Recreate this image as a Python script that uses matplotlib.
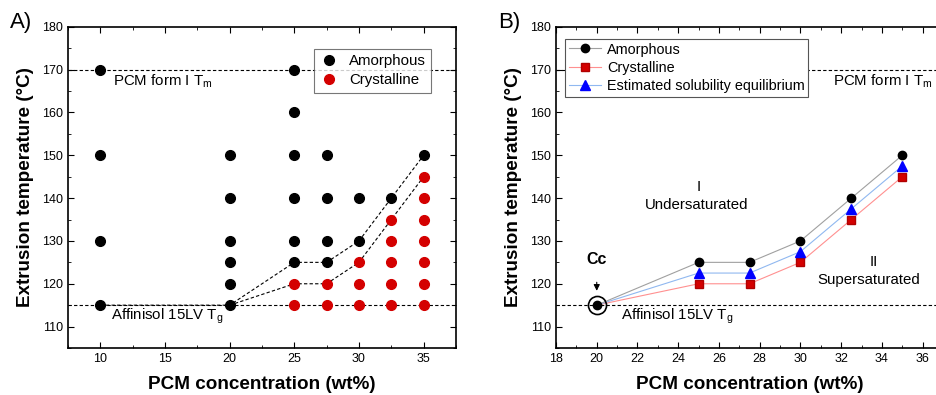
import matplotlib
matplotlib.use("Agg")
import matplotlib.pyplot as plt
from matplotlib.ticker import MultipleLocator

plt.rcParams['font.family'] = ['Liberation Sans', 'DejaVu Sans']
plt.rcParams['mathtext.fontset'] = 'custom'
plt.rcParams['mathtext.rm'] = 'Liberation Sans'
plt.rcParams['mathtext.it'] = 'Liberation Sans'

# panel A: screening points
amor_x = [10, 10, 10, 10,
          20, 20, 20, 20, 20, 20,
          25, 25, 25, 25, 25, 25,
          27.5, 27.5, 27.5, 27.5,
          30, 30, 32.5, 35]
amor_t = [170, 150, 130, 115,
          150, 140, 130, 125, 120, 115,
          170, 160, 150, 140, 130, 125,
          150, 140, 130, 125,
          140, 130, 140, 150]
cryst_x = [25, 25, 27.5, 27.5, 30, 30, 30,
           32.5, 32.5, 32.5, 32.5, 32.5,
           35, 35, 35, 35, 35, 35, 35]
cryst_t = [120, 115, 120, 115, 125, 120, 115,
           135, 130, 125, 120, 115,
           145, 140, 135, 130, 125, 120, 115]

# boundaries (dashed)
upper_x = [10, 20, 25, 27.5, 30, 32.5, 35]
upper_t = [115, 115, 125, 125, 130, 140, 150]
lower_x = [20, 25, 27.5, 30, 32.5, 35]
lower_t = [115, 120, 120, 125, 135, 145]

# panel B: phase diagram
conc = [20, 25, 27.5, 30, 32.5, 35]
t_amor = [115, 125, 125, 130, 140, 150]
t_cryst = [115, 120, 120, 125, 135, 145]
t_equil = [115, 122.5, 122.5, 127.5, 137.5, 147.5]

tm_pcm = 170
tg_polymer = 115

fig = plt.figure(figsize=(9.37, 3.95), dpi=100)
axA = fig.add_axes([0.0726, 0.119, 0.414, 0.813])
axB = fig.add_axes([0.5934, 0.119, 0.413, 0.813])

def style_axis(ax):
    ax.tick_params(which='both', direction='in', top=True, right=True, labelsize=9)
    ax.tick_params(which='major', length=4)
    ax.tick_params(which='minor', length=2.5)
    ax.set_ylim(105, 180)
    ax.yaxis.set_major_locator(MultipleLocator(10))
    ax.yaxis.set_minor_locator(MultipleLocator(5))
    ax.set_xlabel('PCM concentration (wt%)', fontsize=13.6, fontweight='bold', labelpad=8)
    ax.set_ylabel('Extrusion temperature (\u00b0C)', fontsize=13.6, fontweight='bold', labelpad=6)
    for s in ax.spines.values():
        s.set_linewidth(1.2)

# ---- A ----
axA.axhline(tm_pcm, color='black', ls='--', lw=0.8, dashes=(3, 2), zorder=1)
axA.axhline(tg_polymer, color='black', ls='--', lw=0.8, dashes=(3, 2), zorder=1)
axA.plot(upper_x, upper_t, color='black', ls='--', lw=0.8, dashes=(3, 2), zorder=1)
axA.plot(lower_x, lower_t, color='black', ls='--', lw=0.8, dashes=(3, 2), zorder=1)
axA.plot(amor_x, amor_t, 'o', color='black', ms=7, ls='none', label='Amorphous', zorder=3)
axA.plot(cryst_x, cryst_t, 'o', color='#d40000', ms=7, ls='none', label='Crystalline', zorder=3)
axA.text(11.0, 167.2, 'PCM form I T$_\\mathrm{m}$', fontsize=10.8, va='center')
axA.text(10.8, 112.4, 'Affinisol 15LV T$_\\mathrm{g}$', fontsize=10.8, va='center')
axA.set_xlim(7.5, 37.5)
axA.xaxis.set_major_locator(MultipleLocator(5))
axA.xaxis.set_minor_locator(MultipleLocator(2.5))
style_axis(axA)
legA = axA.legend(loc='upper right', fontsize=10.8, frameon=True, fancybox=False,
                  edgecolor='#555555', handletextpad=0.6, borderpad=0.35,
                  bbox_to_anchor=(0.955, 0.955), handlelength=1.4, labelspacing=0.35)
legA.get_frame().set_linewidth(0.8)
fig.text(0.011, 0.93, 'A)', fontsize=16)

# ---- B ----
axB.axhline(tm_pcm, color='black', ls='--', lw=0.8, dashes=(3, 2), zorder=1)
axB.axhline(tg_polymer, color='black', ls='--', lw=0.8, dashes=(3, 2), zorder=1)
axB.plot(conc, t_amor, '-o', color='#a0a0a0', lw=0.8, mfc='black', mec='black', ms=6,
         label='Amorphous', zorder=4)
axB.plot(conc, t_cryst, '-s', color='#ff9090', lw=0.8, mfc='#d40000', mec='#b00000', ms=6,
         markevery=slice(1, None), label='Crystalline', zorder=2)
axB.plot(conc, t_equil, '-^', color='#90b8f0', lw=0.8, mfc='#0000ff', mec='#0000ff', ms=6.5,
         markevery=slice(1, None), label='Estimated solubility equilibrium', zorder=3)
axB.plot([conc[0]], [t_amor[0]], 'o', mfc='none', mec='black', ms=13, mew=1.2, zorder=5)
axB.annotate('', xy=(20, 117.7), xytext=(20, 121.0),
             arrowprops=dict(arrowstyle='-|>', color='black', lw=0.8, mutation_scale=9))
axB.text(20, 125.7, 'Cc', fontsize=11.5, fontweight='bold', ha='center', va='center')
axB.text(25.0, 142.7, 'I', fontsize=10.8, ha='center', va='center')
axB.text(24.9, 138.5, 'Undersaturated', fontsize=10.8, ha='center', va='center')
axB.text(33.6, 125.2, 'II', fontsize=10.8, ha='center', va='center')
axB.text(33.35, 120.9, 'Supersaturated', fontsize=10.8, ha='center', va='center')
axB.text(31.6, 167.2, 'PCM form I T$_\\mathrm{m}$', fontsize=10.8, va='center')
axB.text(21.2, 112.4, 'Affinisol 15LV T$_\\mathrm{g}$', fontsize=10.8, va='center')
axB.set_xlim(18, 37)
axB.xaxis.set_major_locator(MultipleLocator(2))
axB.xaxis.set_minor_locator(MultipleLocator(1))
style_axis(axB)
legB = axB.legend(loc='upper left', fontsize=10.4, frameon=True, fancybox=False, framealpha=1,
                  edgecolor='#555555', handletextpad=0.45, borderpad=0.25, labelspacing=0.3,
                  bbox_to_anchor=(0.005, 0.985), handlelength=2.2)
legB.get_frame().set_linewidth(0.8)
fig.text(0.532, 0.93, 'B)', fontsize=16)

fig.savefig('out.png', dpi=100)
